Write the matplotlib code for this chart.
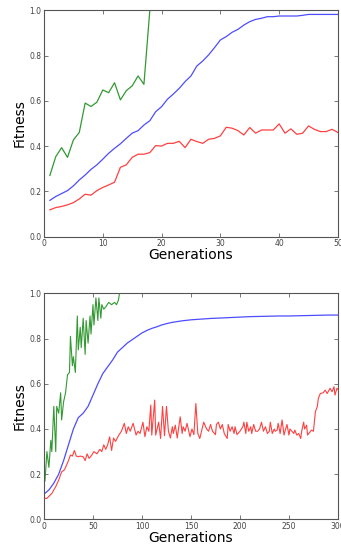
import matplotlib
matplotlib.use("Agg")
import matplotlib.pyplot as plt

# ---- Top chart (50 generations) ----
top_gen = list(range(1, 51))
top_blue = [0.160, 0.177, 0.190, 0.203, 0.224, 0.250, 0.272, 0.297, 0.317, 0.342,
            0.368, 0.390, 0.410, 0.434, 0.457, 0.468, 0.493, 0.512, 0.552, 0.574,
            0.607, 0.630, 0.655, 0.685, 0.710, 0.754, 0.776, 0.803, 0.835, 0.869,
            0.884, 0.903, 0.916, 0.935, 0.950, 0.960, 0.965, 0.972, 0.972, 0.975,
            0.975, 0.975, 0.975, 0.978, 0.982, 0.982, 0.982, 0.982, 0.982, 0.982]
top_red = [0.118, 0.128, 0.133, 0.140, 0.150, 0.166, 0.187, 0.183, 0.203, 0.217,
           0.228, 0.240, 0.306, 0.317, 0.350, 0.364, 0.364, 0.371, 0.402, 0.400,
           0.412, 0.412, 0.421, 0.393, 0.430, 0.420, 0.412, 0.430, 0.434, 0.445,
           0.483, 0.479, 0.468, 0.449, 0.482, 0.457, 0.471, 0.471, 0.471, 0.498,
           0.457, 0.476, 0.452, 0.457, 0.489, 0.474, 0.464, 0.464, 0.474, 0.460]
top_green_gen = list(range(1, 19))
top_green = [0.270, 0.353, 0.393, 0.350, 0.427, 0.460, 0.590, 0.575, 0.594, 0.648,
             0.636, 0.680, 0.604, 0.645, 0.666, 0.710, 0.673, 1.000]

# ---- Bottom chart (300 generations) ----
bot_blue_gen = [0, 5, 10, 15, 20, 25, 30, 35, 40, 45, 50, 55, 60, 65, 70, 75, 80, 85,
                90, 95, 100, 105, 110, 115, 120, 125, 130, 140, 150, 160, 170, 180,
                190, 200, 210, 220, 230, 240, 250, 260, 270, 280, 290, 300]
bot_blue = [0.112, 0.130, 0.160, 0.200, 0.260, 0.330, 0.400, 0.450, 0.470, 0.500,
            0.550, 0.600, 0.645, 0.675, 0.705, 0.740, 0.760, 0.780, 0.795, 0.810,
            0.825, 0.836, 0.845, 0.852, 0.860, 0.866, 0.871, 0.878, 0.883, 0.886,
            0.889, 0.891, 0.893, 0.895, 0.897, 0.898, 0.899, 0.900, 0.900, 0.901,
            0.902, 0.903, 0.904, 0.904]

bot_green_gen = [1, 3, 5, 7, 8, 10, 12, 13, 15, 17, 18, 20, 22, 24, 26, 27, 29, 30,
                 32, 34, 35, 37, 38, 40, 42, 43, 45, 47, 48, 50, 51, 53, 55, 56, 58,
                 59, 61, 63, 66, 69, 72, 74, 76, 77]
bot_green = [0.17, 0.30, 0.23, 0.35, 0.30, 0.50, 0.30, 0.50, 0.47, 0.56, 0.44, 0.52,
             0.56, 0.64, 0.65, 0.81, 0.68, 0.72, 0.65, 0.90, 0.75, 0.85, 0.76, 0.89,
             0.73, 0.88, 0.78, 0.90, 0.82, 0.95, 0.86, 0.98, 0.88, 0.98, 0.89, 0.95,
             0.93, 0.94, 0.96, 0.95, 0.96, 0.95, 0.97, 1.00]

bot_red_gen = [0, 3, 8, 12, 15, 18, 21, 23, 25, 27, 29, 31, 33, 35, 37, 40, 42, 44,
               46, 48, 51, 54, 57, 59, 61, 63, 65, 67, 69, 71, 73, 76, 79, 82, 84, 86,
               88, 91, 94, 96, 98, 101, 103, 105, 107, 109, 110, 113, 114, 117, 119,
               121, 123, 125, 127, 129, 131, 132, 134, 136, 139, 141, 142, 144, 146,
               149, 151, 153, 155, 157, 159, 161, 163, 166, 168, 170, 172, 175, 176,
               178, 180, 182, 184, 187, 188, 190, 192, 194, 195, 197, 200, 203, 204,
               206, 207, 209, 211, 212, 214, 216, 218, 220, 222, 224, 226, 228, 230,
               231, 233, 235, 236, 238, 239, 241, 243, 245, 246, 248, 250, 251, 253,
               255, 256, 258, 260, 262, 263, 265, 266, 268, 269, 272, 273, 275, 277,
               279, 280, 282, 285, 287, 289, 292, 294, 296, 297, 299, 300]
bot_red = [0.093, 0.093, 0.115, 0.145, 0.174, 0.210, 0.220, 0.240, 0.260, 0.285,
           0.280, 0.305, 0.280, 0.277, 0.280, 0.277, 0.260, 0.290, 0.270, 0.280,
           0.300, 0.290, 0.310, 0.300, 0.330, 0.310, 0.330, 0.365, 0.305, 0.360,
           0.345, 0.370, 0.390, 0.425, 0.380, 0.410, 0.390, 0.425, 0.373, 0.390,
           0.380, 0.430, 0.366, 0.410, 0.390, 0.506, 0.373, 0.528, 0.373, 0.430,
           0.358, 0.500, 0.370, 0.500, 0.390, 0.360, 0.410, 0.380, 0.417, 0.360,
           0.454, 0.380, 0.410, 0.390, 0.425, 0.366, 0.400, 0.375, 0.513, 0.380,
           0.358, 0.395, 0.430, 0.400, 0.390, 0.420, 0.390, 0.375, 0.420, 0.430,
           0.400, 0.420, 0.380, 0.358, 0.420, 0.390, 0.410, 0.380, 0.410, 0.375,
           0.390, 0.410, 0.430, 0.380, 0.430, 0.390, 0.410, 0.380, 0.420, 0.390,
           0.390, 0.400, 0.430, 0.390, 0.410, 0.380, 0.390, 0.430, 0.380, 0.400,
           0.390, 0.395, 0.425, 0.380, 0.440, 0.373, 0.390, 0.420, 0.373, 0.400,
           0.390, 0.380, 0.395, 0.373, 0.380, 0.358, 0.390, 0.430, 0.400, 0.417,
           0.373, 0.390, 0.395, 0.390, 0.476, 0.500, 0.535, 0.557, 0.560, 0.572,
           0.557, 0.580, 0.565, 0.587, 0.550, 0.580, 0.575]

y_ticks = [0.0, 0.2, 0.4, 0.6, 0.8, 1.0]
top_xticks = [0, 10, 20, 30, 40, 50]
bot_xticks = [0, 50, 100, 150, 200, 250, 300]

fig = plt.figure(figsize=(3.41, 5.45), dpi=100)
ax1 = fig.add_axes([0.129, 0.566, 0.862, 0.415])
ax2 = fig.add_axes([0.129, 0.047, 0.862, 0.4147])

BLUE = (0.30, 0.30, 1.0)
GREEN = (0.20, 0.60, 0.20)
RED = (1.0, 0.25, 0.25)

ax1.plot(top_gen, top_blue, color=BLUE, lw=0.9)
ax1.plot(top_gen, top_red, color=RED, lw=0.9)
ax1.plot(top_green_gen, top_green, color=GREEN, lw=0.9)

ax2.plot(bot_blue_gen, bot_blue, color=BLUE, lw=0.9)
ax2.plot(bot_red_gen, bot_red, color=RED, lw=0.8)
ax2.plot(bot_green_gen, bot_green, color=GREEN, lw=0.8)

for ax, xt, xmax in ((ax1, top_xticks, 50), (ax2, bot_xticks, 300)):
    ax.set_xlim(0, xmax)
    ax.set_ylim(0, 1)
    ax.set_xticks(xt)
    ax.set_yticks(y_ticks)
    ax.set_yticklabels([f"{v:.1f}" for v in y_ticks])
    ax.tick_params(direction="in", top=True, right=True, labelsize=5.5,
                   length=3, width=0.5, colors="#444444", pad=2)
    for s in ax.spines.values():
        s.set_color("#555555")
        s.set_linewidth(0.8)
    ax.set_xlabel("Generations", fontsize=10, labelpad=0)
    ax.set_ylabel("Fitness", fontsize=10, labelpad=2)

fig.savefig("out.png", dpi=100)
